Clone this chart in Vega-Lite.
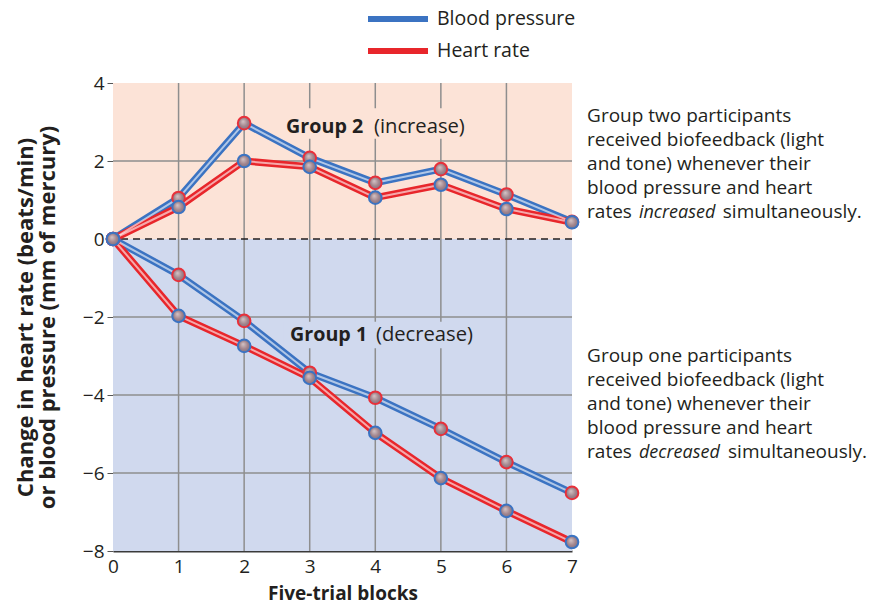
{
  "$schema": "https://vega.github.io/schema/vega-lite/v6.json",
  "width": 459,
  "height": 468,
  "autosize": {"type": "none"},
  "padding": {"left": 113, "top": 83, "right": 304, "bottom": 61},
  "background": "white",
  "config": {
    "font": "Open Sans",
    "view": {"stroke": null},
    "text": {"font": "Open Sans", "color": "#231f20"}
  },
  "datasets": {
    "main": [
      {"block": 0, "value": 0, "series": "Blood pressure", "grp": "inc"},
      {"block": 1, "value": 1.05, "series": "Blood pressure", "grp": "inc"},
      {"block": 2, "value": 2.97, "series": "Blood pressure", "grp": "inc"},
      {"block": 3, "value": 2.08, "series": "Blood pressure", "grp": "inc"},
      {"block": 4, "value": 1.44, "series": "Blood pressure", "grp": "inc"},
      {"block": 5, "value": 1.79, "series": "Blood pressure", "grp": "inc"},
      {"block": 6, "value": 1.14, "series": "Blood pressure", "grp": "inc"},
      {"block": 7, "value": 0.44, "series": "Blood pressure", "grp": "inc"},
      {"block": 0, "value": 0, "series": "Heart rate", "grp": "inc"},
      {"block": 1, "value": 0.82, "series": "Heart rate", "grp": "inc"},
      {"block": 2, "value": 2.0, "series": "Heart rate", "grp": "inc"},
      {"block": 3, "value": 1.85, "series": "Heart rate", "grp": "inc"},
      {"block": 4, "value": 1.06, "series": "Heart rate", "grp": "inc"},
      {"block": 5, "value": 1.39, "series": "Heart rate", "grp": "inc"},
      {"block": 6, "value": 0.77, "series": "Heart rate", "grp": "inc"},
      {"block": 7, "value": 0.43, "series": "Heart rate", "grp": "inc"},
      {"block": 0, "value": 0, "series": "Blood pressure", "grp": "dec"},
      {"block": 1, "value": -0.92, "series": "Blood pressure", "grp": "dec"},
      {"block": 2, "value": -2.1, "series": "Blood pressure", "grp": "dec"},
      {"block": 3, "value": -3.43, "series": "Blood pressure", "grp": "dec"},
      {"block": 4, "value": -4.07, "series": "Blood pressure", "grp": "dec"},
      {"block": 5, "value": -4.87, "series": "Blood pressure", "grp": "dec"},
      {"block": 6, "value": -5.72, "series": "Blood pressure", "grp": "dec"},
      {"block": 7, "value": -6.51, "series": "Blood pressure", "grp": "dec"},
      {"block": 0, "value": 0, "series": "Heart rate", "grp": "dec"},
      {"block": 1, "value": -1.97, "series": "Heart rate", "grp": "dec"},
      {"block": 2, "value": -2.74, "series": "Heart rate", "grp": "dec"},
      {"block": 3, "value": -3.56, "series": "Heart rate", "grp": "dec"},
      {"block": 4, "value": -4.97, "series": "Heart rate", "grp": "dec"},
      {"block": 5, "value": -6.13, "series": "Heart rate", "grp": "dec"},
      {"block": 6, "value": -6.97, "series": "Heart rate", "grp": "dec"},
      {"block": 7, "value": -7.77, "series": "Heart rate", "grp": "dec"}
    ],
    "regions": [
      {"x1": 0, "x2": 7, "y1": 0, "y2": 4, "region": "inc"},
      {"x1": 0, "x2": 7, "y1": -8, "y2": 0, "region": "dec"}
    ],
    "gridx": [{"v": 1}, {"v": 2}, {"v": 3}, {"v": 4}, {"v": 5}, {"v": 6}],
    "gridy": [{"v": -6}, {"v": -4}, {"v": -2}, {"v": 2}],
    "zero": [{"v": 0}],
    "boxes": [
      {"x1": 2.55, "x2": 5.4, "y1": 2.57, "y2": 3.35},
      {"x1": 2.6, "x2": 5.5, "y1": -2.8, "y2": -2.12}
    ],
    "boldlab": [
      {"x": 2.64, "y": 2.718, "t": "Group 2"},
      {"x": 2.70, "y": -2.615, "t": "Group 1"}
    ],
    "plainlab": [
      {"x": 3.98, "y": 2.718, "t": "(increase)"},
      {"x": 4.01, "y": -2.615, "t": "(decrease)"}
    ],
    "notes": [
      {"x": 7.23, "y": 3.0, "t": "Group two participants"},
      {"x": 7.23, "y": 2.385, "t": "received biofeedback (light"},
      {"x": 7.23, "y": 1.769, "t": "and tone) whenever their"},
      {"x": 7.23, "y": 1.154, "t": "blood pressure and heart"},
      {"x": 7.23, "y": 0.538, "t": "rates"},
      {"x": 9.3, "y": 0.538, "t": "simultaneously."},
      {"x": 7.23, "y": -3.154, "t": "Group one participants"},
      {"x": 7.23, "y": -3.77, "t": "received biofeedback (light"},
      {"x": 7.23, "y": -4.385, "t": "and tone) whenever their"},
      {"x": 7.23, "y": -5.0, "t": "blood pressure and heart"},
      {"x": 7.23, "y": -5.615, "t": "rates"},
      {"x": 9.38, "y": -5.615, "t": "simultaneously."}
    ],
    "italic": [
      {"x": 8.02, "y": 0.538, "t": "increased"},
      {"x": 8.02, "y": -5.615, "t": "decreased"}
    ]
  },
  "layer": [
    {
      "data": {"name": "regions"},
      "mark": {"type": "rect"},
      "encoding": {
        "x": {"field": "x1", "type": "quantitative", "scale": {"domain": [0, 7], "nice": false, "zero": false},
          "axis": {"values": [0,1,2,3,4,5,6,7], "format": "d", "title": "Five-trial blocks", "grid": false, "ticks": false,
            "domain": true, "domainColor": "#3a3a3a", "domainWidth": 2, "labelFontSize": 19, "labelColor": "#231f20",
            "labelPadding": 6, "titleFontSize": 19, "titleFontWeight": "bold", "titleColor": "#231f20", "titlePadding": 8,
            "labelFlush": false}},
        "x2": {"field": "x2"},
        "y": {"field": "y1", "type": "quantitative", "scale": {"domain": [-8, 4], "nice": false, "zero": false},
          "axis": {"values": [-8,-6,-4,-2,0,2,4], "title": ["Change in heart rate (beats/min)", "or blood pressure (mm of mercury)"],
            "grid": false, "ticks": true, "tickSize": 6, "tickColor": "#555555", "domain": false,
            "labelFontSize": 19, "labelColor": "#231f20", "labelPadding": 3,
            "titleFontSize": 22, "titleFontWeight": "bold", "titleColor": "#231f20", "titleLineHeight": 22, "titlePadding": 23}},
        "y2": {"field": "y2"},
        "fill": {"field": "region", "type": "nominal", "scale": {"domain": ["inc", "dec"], "range": ["#fce3d7", "#d0d9ee"]}, "legend": null}
      }
    },
    {
      "data": {"name": "gridx"},
      "mark": {"type": "rule", "color": "#8e8e8e", "strokeWidth": 1.5},
      "encoding": {"x": {"field": "v", "type": "quantitative"}}
    },
    {
      "data": {"name": "gridy"},
      "mark": {"type": "rule", "color": "#8e8e8e", "strokeWidth": 1.5},
      "encoding": {"y": {"field": "v", "type": "quantitative"}}
    },
    {
      "data": {"name": "zero"},
      "mark": {"type": "rule", "color": "#231f20", "strokeWidth": 1.5, "strokeDash": [7, 5]},
      "encoding": {"y": {"field": "v", "type": "quantitative"}}
    },
    {
      "data": {"name": "boxes"},
      "transform": [{"filter": "datum.y1 > 0"}],
      "mark": {"type": "rect", "color": "#fce3d7"},
      "encoding": {
        "x": {"field": "x1", "type": "quantitative"}, "x2": {"field": "x2"},
        "y": {"field": "y1", "type": "quantitative"}, "y2": {"field": "y2"}
      }
    },
    {
      "data": {"name": "boxes"},
      "transform": [{"filter": "datum.y1 < 0"}],
      "mark": {"type": "rect", "color": "#d0d9ee"},
      "encoding": {
        "x": {"field": "x1", "type": "quantitative"}, "x2": {"field": "x2"},
        "y": {"field": "y1", "type": "quantitative"}, "y2": {"field": "y2"}
      }
    },
    {
      "data": {"name": "boldlab"},
      "mark": {"type": "text", "align": "left", "baseline": "alphabetic", "fontSize": 19.7, "fontWeight": "bold", "color": "#231f20"},
      "encoding": {"x": {"field": "x", "type": "quantitative"}, "y": {"field": "y", "type": "quantitative"}, "text": {"field": "t"}}
    },
    {
      "data": {"name": "plainlab"},
      "mark": {"type": "text", "align": "left", "baseline": "alphabetic", "fontSize": 20.2, "color": "#231f20"},
      "encoding": {"x": {"field": "x", "type": "quantitative"}, "y": {"field": "y", "type": "quantitative"}, "text": {"field": "t"}}
    },
    {
      "data": {"name": "main"},
      "mark": {"type": "line", "strokeWidth": 7, "strokeCap": "round", "strokeJoin": "round"},
      "encoding": {
        "x": {"field": "block", "type": "quantitative"},
        "y": {"field": "value", "type": "quantitative"},
        "detail": {"field": "grp"},
        "color": {"field": "series", "type": "nominal",
          "scale": {"domain": ["Blood pressure", "Heart rate"], "range": ["#3b73c2", "#e8262b"]},
          "legend": {"orient": "none", "legendX": 272, "legendY": -77, "padding": 0, "title": null, "symbolType": "M-3,0H3",
            "symbolStrokeWidth": 6, "symbolSize": 400, "labelFontSize": 19.5, "labelColor": "#231f20",
            "labelFont": "Open Sans", "rowPadding": 7, "labelOffset": 26}}
      }
    },
    {
      "data": {"name": "main"},
      "mark": {"type": "line", "strokeWidth": 2, "color": "white", "opacity": 0.6, "strokeJoin": "round"},
      "encoding": {
        "x": {"field": "block", "type": "quantitative"},
        "y": {"field": "value", "type": "quantitative"},
        "detail": [{"field": "grp"}, {"field": "series"}]
      }
    },
    {
      "data": {"name": "main"},
      "mark": {"type": "point", "filled": true, "size": 160, "strokeWidth": 2, "opacity": 1,
        "fill": {"gradient": "radial", "x1": 0.4, "y1": 0.35, "r1": 0, "x2": 0.5, "y2": 0.5, "r2": 0.55,
          "stops": [{"offset": 0, "color": "#d6c6c8"}, {"offset": 0.6, "color": "#a1838b"}, {"offset": 1, "color": "#7a7286"}]}},
      "encoding": {
        "x": {"field": "block", "type": "quantitative"},
        "y": {"field": "value", "type": "quantitative"},
        "stroke": {"field": "series", "type": "nominal", "scale": {"domain": ["Blood pressure", "Heart rate"], "range": ["#e8303a", "#3b73c2"]}, "legend": null}
      }
    },
    {
      "data": {"name": "notes"},
      "mark": {"type": "text", "align": "left", "baseline": "alphabetic", "fontSize": 19, "color": "#231f20"},
      "encoding": {"x": {"field": "x", "type": "quantitative"}, "y": {"field": "y", "type": "quantitative"}, "text": {"field": "t"}}
    },
    {
      "data": {"name": "italic"},
      "mark": {"type": "text", "align": "left", "baseline": "alphabetic", "fontSize": 18, "fontStyle": "italic", "color": "#231f20"},
      "encoding": {"x": {"field": "x", "type": "quantitative"}, "y": {"field": "y", "type": "quantitative"}, "text": {"field": "t"}}
    }
  ]
}
